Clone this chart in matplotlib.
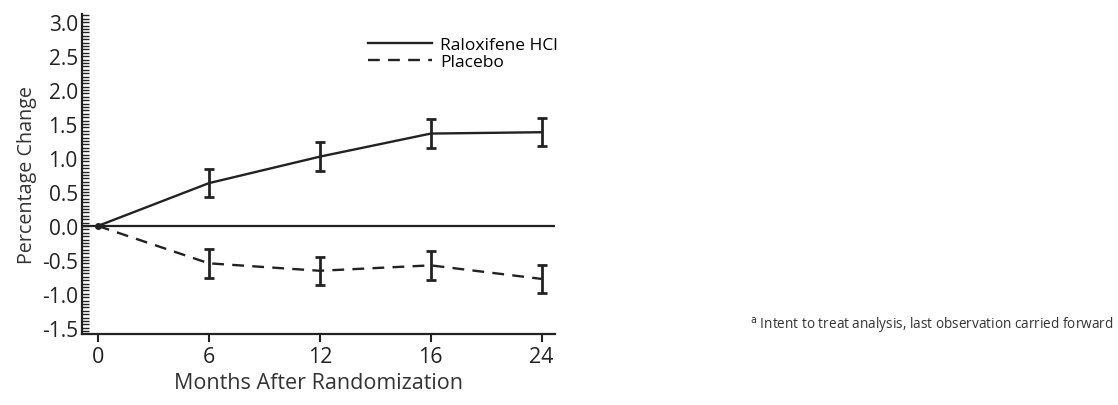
import numpy as np
import matplotlib.pyplot as plt
from matplotlib.ticker import MultipleLocator

# --- dados ---
months = ['0', '6', '12', '16', '24']
raloxifene = [0.0, 0.63, 1.02, 1.36, 1.38]
raloxifene_err = [0.0, 0.21, 0.21, 0.21, 0.21]
placebo = [0.0, -0.55, -0.66, -0.58, -0.78]
placebo_err = [0.0, 0.21, 0.21, 0.21, 0.21]

plt.rcParams['font.family'] = ['Open Sans', 'DejaVu Sans']

fig = plt.figure(figsize=(11.18, 4.06), dpi=100)
ax = fig.add_axes([0.0733, 0.175, 0.4231, 0.788])

x = np.arange(len(months))

ax.axhline(0, color='#222222', lw=1.6, zorder=1)

ax.errorbar(x[1:], raloxifene[1:], yerr=raloxifene_err[1:], fmt='none',
            ecolor='#222222', elinewidth=2, capsize=3.5, capthick=2)
ax.errorbar(x[1:], placebo[1:], yerr=placebo_err[1:], fmt='none',
            ecolor='#222222', elinewidth=2, capsize=3.5, capthick=2)

ax.plot(x, raloxifene, color='#222222', lw=1.7, label='Raloxifene HCl')
ax.plot(x, placebo, color='#222222', lw=1.7, ls=(0, (5, 3.5)), label='Placebo')
ax.plot([0], [0], 'o', color='#222222', ms=4)

ax.set_xlim(-0.144, 4.12)
ax.set_ylim(-1.59, 3.12)
ax.set_xticks(x)
ax.set_xticklabels(months)
ax.yaxis.set_minor_locator(MultipleLocator(0.05))
yt = np.arange(-1.5, 3.01, 0.5)
ax.set_yticks(yt)
ax.set_yticklabels([f'{v:.1f}' for v in yt])

ax.tick_params(axis='y', which='both', direction='in', length=5, width=1,
               labelsize=15, pad=3, colors='#222222')
ax.tick_params(axis='x', direction='out', length=6, width=1.5,
               labelsize=15.5, pad=3, colors='#222222')

for side in ['top', 'right']:
    ax.spines[side].set_visible(False)
for side in ['left', 'bottom']:
    ax.spines[side].set_linewidth(1.6)
    ax.spines[side].set_color('#222222')

ax.set_xlabel('Months After Randomization', fontsize=15.5, color='#333333', labelpad=3)
ax.set_ylabel('Percentage Change', fontsize=14.2, color='#333333', labelpad=3)

leg = ax.legend(loc='upper left', bbox_to_anchor=(0.59, 0.95), frameon=False,
                fontsize=12.5, handlelength=3.7, handletextpad=0.45,
                labelspacing=0.05, borderaxespad=0)

fig.text(0.671, 0.197, '$^{\\mathrm{a}}$ Intent to treat analysis, last observation carried forward',
         fontsize=9.8, color='#333333', va='center')

fig.savefig('out.png', dpi=100)
